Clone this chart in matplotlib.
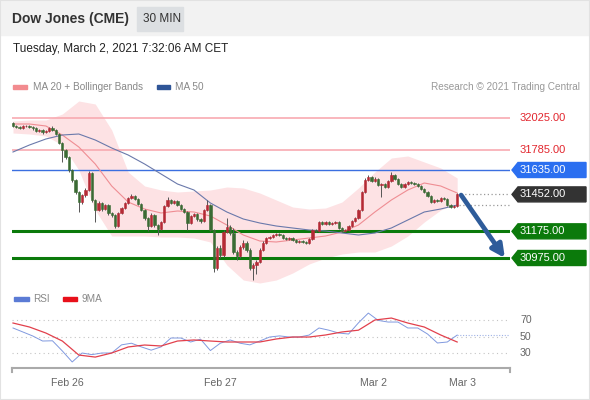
import numpy as np
import matplotlib.pyplot as plt
from matplotlib import transforms
from matplotlib.patches import Polygon, Rectangle

plt.rcParams['font.family'] = ['Liberation Sans', 'DejaVu Sans']

# -----------------------------------------------------------------------------
# data (30 min candles, Dow Jones CME)
# -----------------------------------------------------------------------------
first_open = 31987.5
closes = [
    31965, 31957.5, 31950, 31965, 31965, 31957.5, 31950, 31927.5, 31935, 31920,
    31927.5, 31950, 31935, 31905, 31837.5, 31785, 31732.5, 31635, 31560, 31470,
    31395, 31447.5, 31485, 31612.5, 31410, 31335, 31387.5, 31342.5, 31372.5, 31312.5,
    31297.5, 31215, 31312.5, 31350, 31387.5, 31425, 31440, 31417.5, 31380, 31335,
    31275, 31215, 31297.5, 31222.5, 31192.5, 31245, 31365, 31410, 31387.5, 31402.5,
    31372.5, 31342.5, 31320, 31237.5, 31290, 31305, 31267.5, 31252.5, 31335, 31372.5,
    31185, 30900, 31050, 30997.5, 31170, 31207.5, 31162.5, 31020, 30990, 31057.5,
    31087.5, 31035, 30900, 30922.5, 30945, 31035, 31087.5, 31125, 31132.5, 31147.5,
    31155, 31147.5, 31125, 31117.5, 31125, 31110, 31095, 31102.5, 31095, 31087.5,
    31117.5, 31185, 31177.5, 31245, 31230, 31245, 31230, 31237.5, 31245, 31200,
    31177.5, 31185, 31215, 31252.5, 31275, 31335, 31470, 31560, 31582.5, 31552.5,
    31567.5, 31522.5, 31530, 31507.5, 31552.5, 31597.5, 31567.5, 31530, 31507.5, 31530,
    31545, 31537.5, 31530, 31515, 31492.5, 31470, 31440, 31395, 31410, 31402.5,
    31425, 31417.5, 31372.5, 31357.5, 31365, 31452,
]
highs = [
    31997.5, 31975, 31967.5, 31975, 31975, 31975, 31967.5, 31960, 31945, 31945,
    31937.5, 31960, 31962.5, 31942.5, 31915, 31847.5, 31795, 31740, 31645, 31570,
    31480, 31457.5, 31497.5, 31627.5, 31620, 31420, 31402.5, 31397.5, 31382.5, 31380,
    31322.5, 31305, 31322.5, 31360, 31397.5, 31435, 31455, 31450, 31427.5, 31390,
    31345, 31285, 31310, 31307.5, 31232.5, 31255, 31375, 31432.5, 31420, 31412.5,
    31412.5, 31382.5, 31352.5, 31330, 31300, 31315, 31315, 31277.5, 31345, 31410,
    31382.5, 31195, 31065, 31070, 31185, 31275, 31220, 31200, 31035, 31072.5,
    31110, 31100, 31050, 30937.5, 30960, 31050, 31100, 31135, 31142.5, 31157.5,
    31165, 31162.5, 31155, 31132.5, 31135, 31132.5, 31117.5, 31110, 31110, 31102.5,
    31125, 31192.5, 31195, 31255, 31255, 31252.5, 31252.5, 31245, 31252.5, 31252.5,
    31207.5, 31195, 31222.5, 31260, 31285, 31345, 31480, 31575, 31597.5, 31590,
    31582.5, 31575, 31537.5, 31537.5, 31560, 31620, 31605, 31575, 31537.5, 31537.5,
    31552.5, 31552.5, 31545, 31537.5, 31522.5, 31500, 31477.5, 31447.5, 31417.5, 31417.5,
    31432.5, 31432.5, 31425, 31380, 31372.5, 31460,
]
lows = [
    31955, 31947.5, 31940, 31940, 31955, 31947.5, 31935, 31917.5, 31917.5, 31905,
    31910, 31917.5, 31925, 31895, 31827.5, 31695, 31720, 31620, 31545, 31455,
    31320, 31380, 31435, 31475, 31395, 31245, 31325, 31330, 31332.5, 31300,
    31285, 31200, 31205, 31305, 31340, 31380, 31415, 31407.5, 31370, 31325,
    31262.5, 31177.5, 31205, 31210, 31147.5, 31182.5, 31235, 31355, 31377.5, 31377.5,
    31362.5, 31332.5, 31310, 31185, 31227.5, 31280, 31255, 31240, 31242.5, 31325,
    31175, 30870, 30885, 30975, 30985, 31160, 31150, 31005, 30960, 30975,
    31045, 31020, 30885, 30810, 30855, 30935, 31025, 31080, 31115, 31125,
    31140, 31140, 31117.5, 31107.5, 31110, 31102.5, 31087.5, 31087.5, 31087.5, 31080,
    31080, 31110, 31170, 31170, 31222.5, 31222.5, 31222.5, 31222.5, 31230, 31192.5,
    31170, 31170, 31177.5, 31207.5, 31245, 31267.5, 31327.5, 31462.5, 31552.5, 31545,
    31545, 31515, 31432.5, 31500, 31500, 31545, 31560, 31522.5, 31500, 31500,
    31522.5, 31530, 31522.5, 31507.5, 31485, 31462.5, 31432.5, 31387.5, 31387.5, 31395,
    31395, 31410, 31365, 31350, 31350, 31357.5,
]

# indicators, read every 5th candle
ind_step = 5
ma20 = [31980, 31980, 31965, 31897.5, 31807.5, 31680, 31515, 31395, 31342.5, 31312.5,
        31327.5, 31320, 31290, 31222.5, 31147.5, 31102.5, 31095, 31110, 31125, 31140,
        31170, 31222.5, 31320, 31410, 31485, 31537.5, 31515, 31462.5]
bb_upper = [32002.5, 32010, 32010, 32055, 32152.5, 32130, 31935, 31620, 31515, 31485,
            31470, 31477.5, 31485, 31507.5, 31500, 31462.5, 31410, 31357.5, 31342.5, 31350,
            31395, 31500, 31620, 31725, 31740, 31695, 31650, 31575]
bb_lower = [31912.5, 31905, 31890, 31822.5, 31635, 31335, 31140, 31140, 31140, 31132.5,
            31132.5, 31125, 31095, 30922.5, 30810, 30787.5, 30810, 30862.5, 30930, 30975,
            31005, 31020, 31020, 31065, 31140, 31245, 31335, 31387.5]
ma50 = [31770, 31822.5, 31867.5, 31897.5, 31905, 31860, 31800, 31747.5, 31680, 31605,
        31530, 31485, 31387.5, 31320, 31267.5, 31237.5, 31215, 31200, 31185, 31177.5,
        31162.5, 31147.5, 31162.5, 31200, 31260, 31320, 31342.5, 31372.5]

# RSI read every 3rd candle, its 9MA every 5th candle
rsi_step = 3
rsi = [60.7, 55.8, 50.9, 44.7, 45, 32.5, 19, 30, 28, 30,
       30, 40, 42, 37.5, 33.5, 37.5, 48.4, 48.4, 43.5, 47,
       33, 42, 46, 42, 40, 44.7, 49.6, 51, 49.6, 49.6,
       52, 60.7, 58, 54.5, 53.3, 67, 79, 70, 68, 68,
       60.7, 60.7, 53.3, 42.3, 43.5, 52]
rsi_ma9 = [66.8, 61.9, 54.5, 44.7, 27.5, 25, 30, 37.4, 39.8, 38.6,
           44.7, 46, 44.7, 43.5, 43.5, 43.5, 47.2, 49.6, 49.6, 52.1,
           55.8, 58, 70.5, 72.9, 66.8, 61.9, 52.1, 43.5]
rsi_levels = [70, 50, 30]

resistances = [32025, 31785]
pivot = 31635
last_price = 31452
ma50_last = 31372.5
supports = [31175, 30975]
target = 30975

day_labels = ['Feb 26', 'Feb 27', 'Mar 2', 'Mar 3']
day_idx = [16.5, 63, 109.5, 136.5]

# -----------------------------------------------------------------------------
# layout helpers (pixels -> figure fraction)
# -----------------------------------------------------------------------------
W, H = 590, 400


def fx(x):
    return x / W


def fy(y):
    return 1 - y / H


fig = plt.figure(figsize=(W / 100, H / 100), dpi=100)
fig.patch.set_facecolor('white')

# header band
fig.patches.append(Rectangle((0, fy(35)), 1, 35 / H, transform=fig.transFigure,
                             color='#f2f2f2', zorder=0))
fig.patches.append(Rectangle((fx(137), fy(31)), 46 / W, 24 / H, transform=fig.transFigure,
                             color='#dcdfe2', zorder=1))
fig.text(fx(12), fy(19), 'Dow Jones (CME)', fontsize=10, fontweight='bold',
         color='#333333', va='center')
fig.text(fx(143), fy(19), '30 MIN', fontsize=8.5, color='#333333', va='center')
fig.text(fx(13), fy(49), 'Tuesday, March 2, 2021 7:32:06 AM CET', fontsize=8.5,
         color='#222222', va='center')

# legends
def swatch(x0, x1, y, color):
    fig.patches.append(Rectangle((fx(x0), fy(y + 2)), (x1 - x0) / W, 4 / H,
                                 transform=fig.transFigure, color=color))


swatch(13, 27, 86.5, '#f28b8f')
fig.text(fx(33), fy(86.5), 'MA 20 + Bollinger Bands', fontsize=7.2, color='#888888', va='center')
swatch(157, 170, 86.5, '#2f5597')
fig.text(fx(175), fy(86.5), 'MA 50', fontsize=7.2, color='#888888', va='center')
fig.text(fx(580), fy(86.5), 'Research \u00a9 2021 Trading Central', fontsize=7.2,
         color='#999999', va='center', ha='right')

swatch(14, 29, 298.5, '#5b7bd5')
fig.text(fx(33), fy(298.5), 'RSI', fontsize=7.2, color='#888888', va='center')
swatch(63, 77, 298.5, '#e8101a')
fig.text(fx(82), fy(298.5), '9MA', fontsize=7.2, color='#888888', va='center')

# -----------------------------------------------------------------------------
# price panel
# -----------------------------------------------------------------------------
n = len(closes)
x = np.arange(n)
xmin, xmax = -0.3, 151.06
ax = fig.add_axes([fx(12), fy(290), 498 / W, 195 / H])
ax.set_xlim(xmin, xmax)
ax.set_ylim(30735, 32197.5)
ax.axis('off')

xi = np.arange(0, n, ind_step)
ax.fill_between(xi, bb_lower, bb_upper, color='#fde2e4', lw=0, zorder=1)
ax.plot(xi, ma20, color='#ef8d93', lw=0.8, zorder=2)
ax.plot(xi, ma50, color='#6a79ab', lw=0.8, zorder=2)

for lvl in resistances:
    ax.axhline(lvl, color='#f8aab1', lw=1.2, zorder=1.5)
ax.axhline(pivot, color='#3b6fe0', lw=1.0, zorder=1.5)
for lvl in supports:
    ax.axhline(lvl, color='#0b7a0b', lw=2.2, zorder=1.5)

opens = np.r_[first_open, closes[:-1]]
c = np.array(closes)
up = c >= opens
colors = np.where(up, '#b52a35', '#3b6b34')
ax.vlines(x, lows, highs, colors='#555555', lw=0.7, zorder=3)
ax.bar(x, c - opens, bottom=opens, width=0.7, color=colors, edgecolor=colors,
       lw=0.4, zorder=4)

# dotted markers after the last candle
ax.plot([n + 0.2, xmax], [last_price, last_price], ls=(0, (1, 2)), color='#999999', lw=0.9)
ax.plot([n - 0.5, xmax], [ma50_last, ma50_last], ls=(0, (1, 2)), color='#999999', lw=0.9)

# expected move arrow
ax.annotate('', xy=(149.5, target), xytext=(n + 0.2, last_price - 5),
            arrowprops=dict(arrowstyle='-|>', color='#2e5c9a', lw=3.4,
                            mutation_scale=19, shrinkA=0, shrinkB=0), zorder=6)

# right-hand labels
blend = transforms.blended_transform_factory(fig.transFigure, ax.transData)
half = 7.5 * (ax.get_ylim()[1] - ax.get_ylim()[0]) / 195


def tag(lvl, face):
    poly = Polygon([(fx(512), lvl), (fx(518), lvl + half), (fx(586), lvl + half),
                    (fx(586), lvl - half), (fx(518), lvl - half)],
                   closed=True, transform=blend, color=face, clip_on=False, zorder=5)
    ax.add_patch(poly)
    ax.text(fx(520), lvl, f'{lvl:.2f}', transform=blend, color='white', fontsize=8,
            va='center', ha='left', clip_on=False, zorder=6)


for lvl in resistances:
    ax.text(fx(520), lvl, f'{lvl:.2f}', transform=blend, color='#e2262e', fontsize=8,
            va='center', ha='left', clip_on=False)
tag(pivot, '#2b6ff0')
tag(last_price, '#333333')
for lvl in supports:
    tag(lvl, '#0b7a0b')

# -----------------------------------------------------------------------------
# RSI panel
# -----------------------------------------------------------------------------
rax = fig.add_axes([fx(12), fy(368), 498 / W, 63 / H])
rax.set_xlim(xmin, xmax)
rax.set_ylim(11.6, 88.9)
for s in ['top', 'right', 'left']:
    rax.spines[s].set_visible(False)
rax.spines['bottom'].set_color('#aaaaaa')
rax.spines['bottom'].set_linewidth(1.5)
rax.set_yticks([])
rax.set_xticks(day_idx)
rax.set_xticklabels(day_labels)
rax.tick_params(axis='x', length=0, pad=7.5, labelsize=7.6, labelcolor='#666666')
for ex in (0, 1):
    rax.plot([ex, ex], [0, -0.07], transform=rax.transAxes, color='#aaaaaa', lw=1.5,
             clip_on=False)

for lvl in rsi_levels:
    rax.axhline(lvl, ls=(0, (1, 3)), color='#c4c4c4', lw=0.8)
rblend = transforms.blended_transform_factory(fig.transFigure, rax.transData)
for lvl in rsi_levels:
    rax.text(fx(520), lvl, str(lvl), transform=rblend, color='#666666', fontsize=7.6,
             va='center', ha='left', clip_on=False)

rx = np.arange(0, n, rsi_step)
rax.plot(rx, rsi, color='#8099df', lw=0.7)
rax.plot(xi, rsi_ma9, color='#e2404c', lw=0.9)
rax.plot([rx[-1], xmax], [rsi[-1], rsi[-1]], ls=(0, (1, 1.5)), color='#9fb2e6', lw=0.8)

# outer frame
fig.patches.append(Rectangle((0, 0), 1, 1, transform=fig.transFigure, fill=False,
                             edgecolor='#e2e2e2', lw=1.5))

fig.savefig('out.png', dpi=100)
